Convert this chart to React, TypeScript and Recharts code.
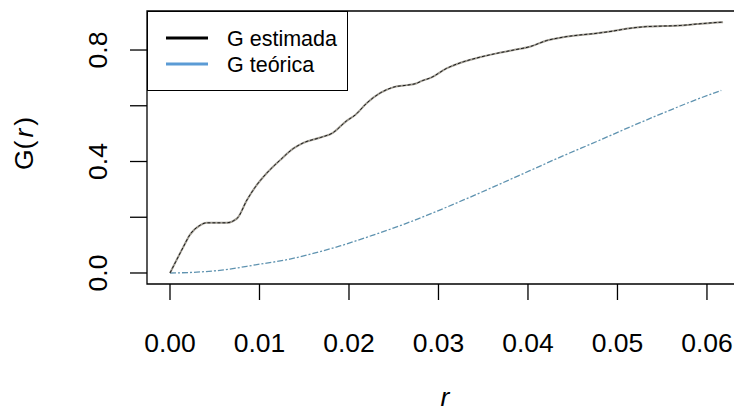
import React from "react";
import {
  LineChart,
  Line,
  XAxis,
  YAxis,
  ReferenceArea,
  Legend,
} from "recharts";

// Empirical nearest-neighbour distribution G(r)
const rEstimated = [
  0, 0.0015, 0.0022, 0.0034, 0.0041, 0.0063, 0.0075, 0.0086, 0.0097, 0.0108,
  0.0123, 0.0138, 0.0149, 0.0168, 0.0182, 0.0197, 0.0207, 0.022, 0.0235,
  0.025, 0.0265, 0.0275, 0.0282, 0.0291, 0.0309, 0.0328, 0.0346, 0.0365,
  0.0384, 0.0402, 0.0421, 0.0439, 0.0458, 0.0477, 0.0495, 0.0514, 0.0533,
  0.0551, 0.057, 0.0588, 0.0607, 0.0618,
];
const gEstimated = [
  0, 0.094, 0.136, 0.172, 0.18, 0.18, 0.196, 0.262, 0.316, 0.358, 0.405,
  0.447, 0.467, 0.486, 0.503, 0.545, 0.567, 0.61, 0.646, 0.667, 0.674, 0.68,
  0.69, 0.7, 0.734, 0.758, 0.774, 0.788, 0.8, 0.812, 0.834, 0.846, 0.854,
  0.86, 0.868, 0.878, 0.884, 0.886, 0.888, 0.893, 0.898, 0.9,
];

// Theoretical G(r) under complete spatial randomness
const rTheoretical = [
  0, 0.003, 0.006, 0.0097, 0.0134, 0.016, 0.019, 0.0227, 0.0264, 0.03,
  0.0328, 0.0365, 0.0402, 0.0439, 0.0477, 0.0514, 0.0551, 0.0588, 0.0616,
];
const gTheoretical = [
  0, 0.003, 0.011, 0.03, 0.05, 0.07, 0.097, 0.136, 0.178, 0.224, 0.262,
  0.314, 0.367, 0.42, 0.472, 0.524, 0.574, 0.622, 0.655,
];

const xTicks = [0, 0.01, 0.02, 0.03, 0.04, 0.05, 0.06];
const xTickLabels = ["0.00", "0.01", "0.02", "0.03", "0.04", "0.05", "0.06"];
const yTicks = [0, 0.2, 0.4, 0.6, 0.8];
const yTickLabels: Record<string, string> = { "0": "0.0", "0.4": "0.4", "0.8": "0.8" };

const seriesNames = ["G estimada", "G teórica"];
const legendColors = ["#000000", "#5b9bd5"];

const estimatedData = rEstimated.map((r, i) => ({ r, g: gEstimated[i] }));
const theoreticalData = rTheoretical.map((r, i) => ({ r, g: gTheoretical[i] }));

const X_DOMAIN: [number, number] = [-0.00257, 0.06425];
const Y_DOMAIN: [number, number] = [-0.0395, 0.94];

const FONT = "'Liberation Sans', Arial, sans-serif";
const TICK_FONT = 26.5;

function XTick(props: any) {
  const { x, y, payload } = props;
  const idx = xTicks.indexOf(payload.value);
  const label = idx >= 0 ? xTickLabels[idx] : String(payload.value);
  return (
    <text
      x={x}
      y={y + 50}
      textAnchor="middle"
      fontFamily={FONT}
      fontSize={TICK_FONT}
      fill="#000"
    >
      {label}
    </text>
  );
}

function YTick(props: any) {
  const { x, y, payload } = props;
  const label = yTickLabels[String(payload.value)];
  if (!label) return null;
  return (
    <text
      transform={`translate(${x - 21}, ${y}) rotate(-90)`}
      textAnchor="middle"
      fontFamily={FONT}
      fontSize={TICK_FONT}
      fill="#000"
    >
      {label}
    </text>
  );
}

function LegendBox() {
  return (
    <div
      style={{
        width: 201,
        height: 80,
        border: "1.3px solid #000",
        boxSizing: "border-box",
        background: "#fff",
      }}
    >
      <svg width={199} height={78} style={{ display: "block" }}>
        {seriesNames.map((name, i) => {
          const cy = 26 + i * 26;
          return (
            <g key={name}>
              <line
                x1={18}
                x2={60}
                y1={cy}
                y2={cy}
                stroke={legendColors[i]}
                strokeWidth={3}
              />
              <text
                x={79}
                y={cy + 8}
                fontFamily={FONT}
                fontSize={21.5}
                fill="#000"
              >
                {name}
              </text>
            </g>
          );
        })}
      </svg>
    </div>
  );
}

export default function App() {
  return (
    <div
      style={{
        position: "absolute",
        left: 0,
        top: 0,
        width: 734,
        height: 412,
        overflow: "hidden",
        background: "#fff",
      }}
    >
      <LineChart
        width={760}
        height={412}
        margin={{ top: 11, right: 15, bottom: 0, left: 0 }}
      >
        <XAxis
          dataKey="r"
          type="number"
          domain={X_DOMAIN}
          ticks={xTicks}
          allowDataOverflow
          height={128}
          axisLine={false}
          tickLine={{ stroke: "#000", strokeWidth: 1.3 }}
          tickSize={16}
          tick={<XTick />}
          interval={0}
          label={({ viewBox }: any) => (
            <text
              x={viewBox.x + viewBox.width / 2 - 1}
              y={viewBox.y + viewBox.height - 6}
              textAnchor="middle"
              fontFamily={FONT}
              fontSize={TICK_FONT}
              fontStyle="italic"
              fill="#000"
            >
              r
            </text>
          )}
        />
        <YAxis
          type="number"
          domain={Y_DOMAIN}
          ticks={yTicks}
          allowDataOverflow
          width={147}
          axisLine={false}
          tickLine={{ stroke: "#000", strokeWidth: 1.3 }}
          tickSize={17}
          tick={<YTick />}
          interval={0}
          label={({ viewBox }: any) => (
            <text
              transform={`translate(33, ${viewBox.y + viewBox.height / 2 - 4}) rotate(-90)`}
              textAnchor="middle"
              fontFamily={FONT}
              fontSize={TICK_FONT}
              fill="#000"
            >
              G(
              <tspan dx={3} fontStyle="italic">r</tspan>
              <tspan dx={3}>)</tspan>
            </text>
          )}
        />
        <ReferenceArea
          x1={X_DOMAIN[0]}
          x2={X_DOMAIN[1]}
          y1={Y_DOMAIN[0]}
          y2={Y_DOMAIN[1]}
          fill="none"
          stroke="#000"
          strokeWidth={1.3}
          ifOverflow="visible"
        />
        <Line
          data={theoreticalData}
          dataKey="g"
          name={seriesNames[1]}
          type="monotone"
          stroke="#5f93b0"
          strokeWidth={1.3}
          strokeDasharray="6 2 2 2"
          dot={false}
          isAnimationActive={false}
        />
        <Line
          data={estimatedData}
          dataKey="g"
          name={seriesNames[0]}
          type="monotone"
          stroke="#a09c92"
          strokeWidth={2}
          dot={false}
          isAnimationActive={false}
        />
        <Line
          data={estimatedData}
          dataKey="g"
          name="G estimada (trazo)"
          type="monotone"
          stroke="#1a1a1a"
          strokeWidth={1}
          strokeDasharray="3 2"
          dot={false}
          legendType="none"
          isAnimationActive={false}
        />
        <Legend
          verticalAlign="middle"
          align="center"
          layout="horizontal"
          wrapperStyle={{ position: "absolute", left: 147, top: 11, width: 201, height: 80 }}
          content={() => <LegendBox />}
        />
      </LineChart>
    </div>
  );
}
